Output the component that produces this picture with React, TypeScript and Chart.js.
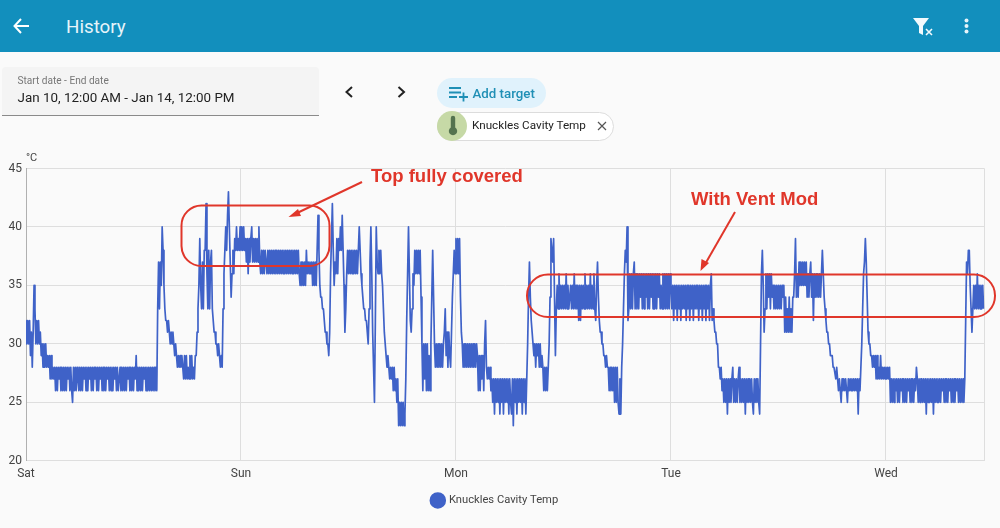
import React, { useEffect, useRef } from "react";
import { Chart, registerables } from "chart.js";

Chart.register(...registerables);

const SAMPLE_HOURS = 0.1;
const HOURS_PER_DAY = 24;
const END_HOUR = 107;
const dayLabels = ["Sat", "Sun", "Mon", "Tue", "Wed"];
const seriesName = "Knuckles Cavity Temp";

const satTemps = [
  32,30,32,30,32,29,31,28,31,35,33,30,32,30,32,30,31,29,30,28,
  30,28,30,28,29,28,29,27,29,27,28,27,28,26,28,26,28,27,28,26,
  28,26,28,26,28,26,28,27,28,26,28,26,25,28,26,28,26,28,27,26,
  28,26,28,26,28,27,28,26,28,26,28,27,28,26,28,26,28,27,28,26,
  28,26,28,27,28,26,28,26,28,26,28,27,28,26,28,26,28,26,28,27,
  28,26,28,26,27,28,26,28,26,28,26,28,26,28,27,28,26,28,26,28,
  26,28,27,29,26,28,26,28,26,28,26,28,27,28,26,28,26,28,26,28,
  26,28,26,28,26,28,26,33,37,33,37,35,40,38,35,33,32,32,31,32,
  31,30,31,30,31,30,29,30,29,28,29,28,29,28,29,28,27,29,27,29,
  27,28,27,29,27,29,27,28,27,29,29,31,33,35,39,35,33,37,33,38,
  38,42,36,33,38,33,37,38,33,32,31,31,30,30,29,30,29,28,29,28,
  33,36,38,40,38,41,43,40,37,34,36,38,36,39,38,40,38,39,38,40,
];
const sunTemps = [
  38,40,38,40,38,39,37,39,36,39,37,39,40,37,39,37,39,37,39,37,
  40,37,36,38,36,38,36,38,37,36,38,36,38,36,38,36,38,36,38,36,
  38,36,38,36,38,36,38,36,38,36,38,36,38,36,38,36,38,36,38,36,
  38,36,38,36,38,36,35,37,35,37,35,37,35,38,36,37,36,37,36,37,
  35,37,35,37,35,38,41,38,35,34,34,33,33,32,31,31,30,30,29,31,
  36,39,42,38,35,37,36,39,36,39,38,40,38,41,38,35,31,33,36,38,
  36,38,36,38,36,38,36,38,36,38,36,38,40,38,36,35,34,33,33,32,
  32,31,30,33,37,40,36,31,28,25,32,40,37,36,38,36,38,36,35,33,
  31,30,29,28,29,28,27,28,27,28,26,28,26,27,25,27,23,25,23,25,
  23,25,23,24,27,32,36,40,36,32,31,33,36,35,38,36,38,36,38,36,
  38,34,30,26,30,27,30,26,30,26,29,26,30,34,38,34,30,28,30,28,
  30,28,30,28,30,28,30,31,33,29,31,28,31,29,28,31,34,36,38,36,
];
const monTemps = [
  39,36,39,36,39,34,31,30,28,30,28,30,28,30,28,30,28,30,28,30,
  28,30,28,30,29,26,29,26,29,27,29,26,30,32,28,27,28,27,28,26,
  27,25,27,24,27,25,27,25,27,24,27,25,27,24,27,25,27,25,27,24,
  27,25,24,27,23,27,25,27,24,27,25,27,25,27,24,27,25,27,24,27,
  30,34,37,34,32,31,30,29,30,28,30,29,30,28,30,28,29,28,26,28,
  26,28,26,28,30,34,39,38,37,39,34,29,33,35,33,36,33,35,33,35,
  33,35,33,36,33,35,33,34,35,33,35,33,36,33,35,33,35,32,35,32,
  35,33,35,33,36,33,35,33,35,33,36,33,35,33,36,33,32,35,37,34,
  32,31,31,30,30,29,29,28,29,28,28,26,28,26,28,26,28,25,28,25,
  28,25,24,27,24,28,30,33,36,38,37,40,32,33,36,33,36,33,36,37,
  33,36,33,36,33,36,34,36,33,36,33,36,34,36,33,36,33,36,34,36,
  33,36,33,36,33,36,34,36,33,35,33,36,33,36,33,36,33,36,33,36,
];
const tueTemps = [
  35,33,35,32,35,33,35,32,35,33,35,32,35,33,35,33,35,32,35,33,
  35,32,35,33,35,32,35,33,35,33,35,32,35,33,35,32,35,33,35,32,
  35,33,35,32,35,36,32,33,32,31,31,30,30,28,28,27,28,26,27,25,
  27,25,27,24,27,25,27,25,27,28,25,27,25,27,25,27,28,25,27,25,
  27,25,27,24,27,25,27,25,27,25,27,25,24,27,25,27,25,27,25,24,
  30,36,38,35,31,33,36,33,36,34,36,33,36,34,35,33,35,33,35,33,
  35,33,35,33,35,34,35,31,34,31,33,31,34,31,33,31,34,34,36,39,
  34,36,34,37,35,37,35,37,35,37,35,37,34,36,34,36,37,34,36,32,
  36,34,36,34,36,34,36,34,36,38,36,34,33,32,31,31,30,30,29,29,
  29,28,28,28,27,28,27,26,27,26,25,27,26,27,26,27,26,25,27,26,
  27,26,27,26,27,26,27,26,27,24,27,26,28,30,33,36,37,39,37,34,
  31,30,30,29,29,28,29,28,29,27,29,27,28,27,29,27,28,27,28,27,
];
const wedTemps = [
  28,27,28,27,28,25,27,25,27,25,27,26,27,25,27,25,27,26,27,25,
  27,25,27,25,27,26,27,25,27,25,27,25,27,26,28,27,25,27,25,27,
  27,25,27,25,27,24,27,25,27,25,27,25,27,24,27,25,27,25,27,25,
  27,25,27,26,27,25,27,25,27,25,27,26,27,25,27,25,27,25,27,26,
  27,25,27,25,27,25,27,25,27,32,37,36,38,38,35,33,31,33,35,33,
  35,33,36,33,35,33,35,33,35,33,
];
const allDays = [satTemps, sunTemps, monTemps, tueTemps, wedTemps];

const BG = "#fafafa";
const HEADER = "#128fbd";
const RED = "#e0362a";
const FONT = "Roboto, sans-serif";

function buildPoints() {
  const pts: { x: number; y: number }[] = [];
  allDays.forEach((day, d) => {
    day.forEach((v, i) => pts.push({ x: d * HOURS_PER_DAY + i * SAMPLE_HOURS, y: v }));
  });
  return pts;
}

const Txt = (p: { x: number; y: number; s: number; c: string; w?: number; children: React.ReactNode }) => (
  <div style={{ position: "absolute", left: p.x, top: p.y, fontSize: p.s, color: p.c, fontWeight: p.w ?? 400, fontFamily: FONT, lineHeight: 1, whiteSpace: "nowrap" }}>
    {p.children}
  </div>
);

export default function App() {
  const ref = useRef<HTMLCanvasElement | null>(null);
  useEffect(() => {
    const chart = new Chart(ref.current!, {
      type: "line",
      data: {
        datasets: [
          {
            label: seriesName,
            data: buildPoints(),
            borderColor: "#3f62c8",
            backgroundColor: "#3f62c8",
            borderWidth: 1.7,
            borderJoinStyle: "round",
            pointRadius: 0,
            tension: 0,
          },
        ],
      },
      options: {
        responsive: false,
        animation: false,
        devicePixelRatio: 1,
        layout: { padding: { top: 168.5, right: 15.5, left: 6, bottom: 12 } },
        scales: {
          x: {
            type: "linear",
            min: 0,
            max: END_HOUR,
            afterBuildTicks(s: any) {
              s.ticks = [0, 24, 48, 72, 96, END_HOUR].map((value) => ({ value }));
            },
            ticks: {
              autoSkip: false,
              maxRotation: 0,
              color: "#444",
              font: { family: FONT, size: 12 },
              padding: 5.5,
              callback: (v: any) => (v % HOURS_PER_DAY === 0 ? dayLabels[v / HOURS_PER_DAY] : ""),
            },
            grid: { color: "#dedede", tickLength: 0, drawTicks: false },
            border: { color: "#dedede" },
            afterFit(s: any) { s.height = 24; },
          },
          y: {
            min: 20,
            max: 45,
            ticks: { stepSize: 5, color: "#444", font: { family: FONT, size: 12 }, padding: 4 },
            grid: { color: "#dedede", drawTicks: false },
            border: { color: "#b0b0b0" },
            afterFit(s: any) { s.width = 20; },
          },
        },
        plugins: {
          tooltip: { enabled: false },
          legend: {
            position: "bottom",
            labels: {
              usePointStyle: true,
              pointStyle: "circle",
              boxWidth: 11,
              boxHeight: 10.5,
              padding: 10,
              color: "#444",
              font: { family: FONT, size: 11.2 },
            },
          },
        },
      } as any,
    });
    return () => chart.destroy();
  }, []);

  return (
    <div style={{ position: "fixed", left: 0, top: 0, width: 1000, height: 528, background: BG, overflow: "hidden" }}>
      <canvas ref={ref} width={1000} height={528} style={{ position: "absolute", left: 0, top: 0, display: "block" }} />

      <div style={{ position: "absolute", left: 0, top: 0, width: 1000, height: 52, background: HEADER }} />
      <Txt x={66} y={18} s={18.8} c="#e6f4fa">History</Txt>

      <div style={{ position: "absolute", left: 2, top: 67, width: 317, height: 48, background: "#f4f4f4", borderBottom: "1px solid #8a8a8a", borderRadius: "4px 4px 0 0" }} />
      <Txt x={17.5} y={76} s={10.1} c="#777">Start date - End date</Txt>
      <Txt x={17.5} y={91} s={13.4} c="#222">Jan 10, 12:00 AM - Jan 14, 12:00 PM</Txt>

      <div style={{ position: "absolute", left: 437, top: 78, width: 109, height: 30, background: "#e0f2fc", borderRadius: 15 }} />
      <Txt x={472.5} y={87} s={13.3} c="#1f8fb5" w={500}>Add target</Txt>

      <div style={{ position: "absolute", left: 437, top: 112, width: 175, height: 27, background: "#fff", border: "1px solid #dcdcdc", borderRadius: 15 }} />
      <div style={{ position: "absolute", left: 437, top: 111, width: 30, height: 30, background: "#c6d9a6", borderRadius: 15 }} />
      <Txt x={472} y={120} s={11.7} c="#222">Knuckles Cavity Temp</Txt>
      <Txt x={26} y={152} s={11} c="#444">°C</Txt>

      <svg width={1000} height={528} style={{ position: "absolute", left: 0, top: 0, pointerEvents: "none" }}>
        <path d="M29 26 H15 M21 19 L14.5 26 L21 33" fill="none" stroke="#fff" strokeWidth={2} />
        <path d="M913 18 H929 L923 26 V35 L919 33 V26 Z" fill="#f2fafd" />
        <path d="M926 29 L932 35 M932 29 L926 35" stroke="#f2fafd" strokeWidth={1.6} />
        <circle cx={966.5} cy={20.5} r={2} fill="#e6f4fa" />
        <circle cx={966.5} cy={26} r={2} fill="#e6f4fa" />
        <circle cx={966.5} cy={31.5} r={2} fill="#e6f4fa" />
        <path d="M352 87 L346.5 92 L352 97" fill="none" stroke="#222" strokeWidth={2} />
        <path d="M398.5 87 L404 92 L398.5 97" fill="none" stroke="#222" strokeWidth={2} />
        <path d="M449 88 H461 M449 92.5 H461 M449 97 H457 M459 97 H468 M463.5 92.5 V101.5" stroke="#1f8fb5" strokeWidth={1.8} fill="none" />
        <path d="M450.8 118 a2.2 2.2 0 0 1 4.4 0 V127.5 a4.2 4.2 0 1 1 -4.4 0 Z" fill="#54734f" />
        <path d="M598 122 L606 130 M606 122 L598 130" stroke="#555" strokeWidth={1.2} />
        <rect x={181.5} y={205.5} width={148} height={60.5} rx={20} fill="none" stroke={RED} strokeWidth={2} />
        <rect x={527} y={274.5} width={468} height={42.5} rx={21} fill="none" stroke={RED} strokeWidth={2} />
        <path d="M362 182 L295 214" stroke={RED} strokeWidth={2} fill="none" />
        <path d="M288.5 217 L298 209 L301 216 Z" fill={RED} />
        <path d="M735 212 L704 266" stroke={RED} strokeWidth={2} fill="none" />
        <path d="M700.5 271 L701.5 259 L709 263 Z" fill={RED} />
        <text x={371} y={182} fill={RED} fontFamily="Liberation Sans, Arial, sans-serif" fontWeight={700} fontSize={18.5}>Top fully covered</text>
        <text x={691} y={205} fill={RED} fontFamily="Liberation Sans, Arial, sans-serif" fontWeight={700} fontSize={18.5}>With Vent Mod</text>
      </svg>
    </div>
  );
}
